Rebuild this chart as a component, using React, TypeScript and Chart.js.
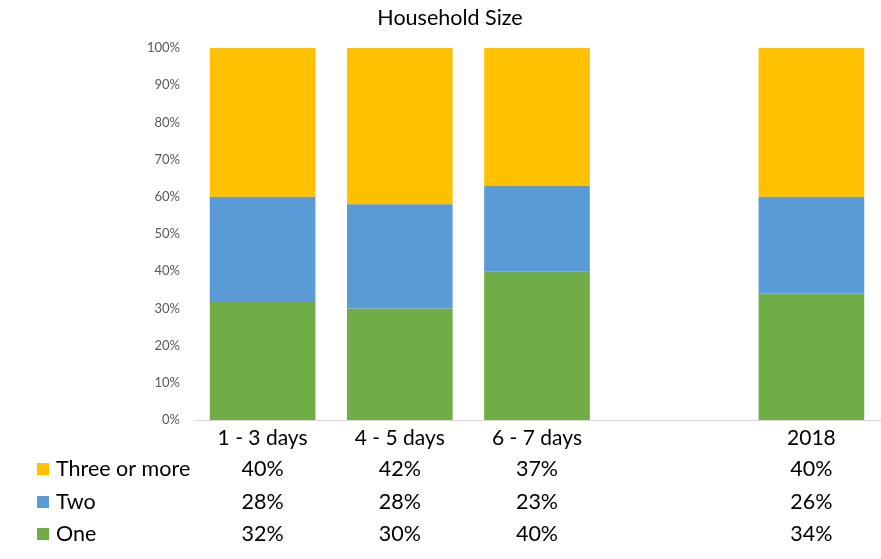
import React, { useEffect, useRef } from "react";
import { Chart, registerables } from "chart.js";

Chart.register(...registerables);

const title = "Household Size";
const categories = ["1 - 3 days", "4 - 5 days", "6 - 7 days", "", "2018"];
const seriesNames = ["One", "Two", "Three or more"];
const oneValues: (number | null)[] = [32, 30, 40, null, 34];
const twoValues: (number | null)[] = [28, 28, 23, null, 26];
const threeValues: (number | null)[] = [40, 42, 37, null, 40];
const seriesColors = ["#70AD47", "#5B9BD5", "#FFC000"];
const yTicks = [0, 10, 20, 30, 40, 50, 60, 70, 80, 90, 100];

const FONT = "Lato, 'Open Sans', sans-serif";

const tablePlugin = {
  id: "dataTable",
  afterDraw(chart: any) {
    const ctx = chart.ctx;
    const x = chart.scales.x;
    ctx.save();
    // title
    ctx.fillStyle = "#000000";
    ctx.font = `21.5px ${FONT}`;
    ctx.textAlign = "center";
    ctx.textBaseline = "middle";
    ctx.fillText(title, 450, 18);

    // table rows: top row is last series
    const rowY = [469, 502, 534];
    const order = [2, 1, 0];
    order.forEach((dsIndex, r) => {
      const ds = chart.data.datasets[dsIndex];
      const y = rowY[r];
      ctx.fillStyle = ds.backgroundColor;
      ctx.fillRect(37, y - 6, 12, 12);
      ctx.fillStyle = "#000000";
      ctx.font = `21.5px ${FONT}`;
      ctx.textAlign = "left";
      ctx.textBaseline = "middle";
      ctx.fillText(ds.label, 56, y);
      ctx.textAlign = "center";
      ds.data.forEach((v: number | null, i: number) => {
        if (v === null || v === undefined) return;
        ctx.fillText(`${v}%`, x.getPixelForValue(i), y);
      });
    });
    ctx.restore();
  },
};

export default function App() {
  const ref = useRef<HTMLCanvasElement>(null);
  useEffect(() => {
    document.body.style.margin = "0";
    const chart = new Chart(ref.current!, {
      type: "bar",
      data: {
        labels: categories,
        datasets: [
          { label: seriesNames[0], data: oneValues, backgroundColor: seriesColors[0] },
          { label: seriesNames[1], data: twoValues, backgroundColor: seriesColors[1] },
          { label: seriesNames[2], data: threeValues, backgroundColor: seriesColors[2] },
        ],
      },
      options: {
        animation: false,
        responsive: false,
        maintainAspectRatio: false,
        layout: { padding: { top: 48, bottom: 109, left: 0, right: 1 } },
        datasets: { bar: { categoryPercentage: 1, barPercentage: 0.77 } },
        plugins: {
          legend: { display: false },
          title: { display: false },
          tooltip: { enabled: false },
        },
        scales: {
          x: {
            stacked: true,
            grid: { display: false, drawTicks: false },
            border: { display: true, color: "#D9D9D9", width: 1 },
            ticks: {
              color: "#000000",
              font: { family: FONT, size: 21 },
              padding: 6,
              maxRotation: 0,
              autoSkip: false,
            },
            afterFit: (s: any) => {
              s.height = 30;
            },
          },
          y: {
            stacked: true,
            min: 0,
            max: 100,
            afterBuildTicks: (s: any) => {
              s.ticks = yTicks.map((v) => ({ value: v }));
            },
            grid: { display: false, drawTicks: false },
            border: { display: false },
            ticks: {
              color: "#595959",
              font: { family: FONT, size: 13 },
              padding: 14,
              callback: (v: any) => `${v}%`,
            },
            afterFit: (s: any) => {
              s.width = 194;
            },
          },
        },
      },
      plugins: [tablePlugin],
    });
    return () => chart.destroy();
  }, []);
  return (
    <div style={{ position: "absolute", left: 0, top: 0, width: 881, height: 559, background: "#fff" }}>
      <canvas ref={ref} width={881} height={559} style={{ width: 881, height: 559 }} />
    </div>
  );
}
